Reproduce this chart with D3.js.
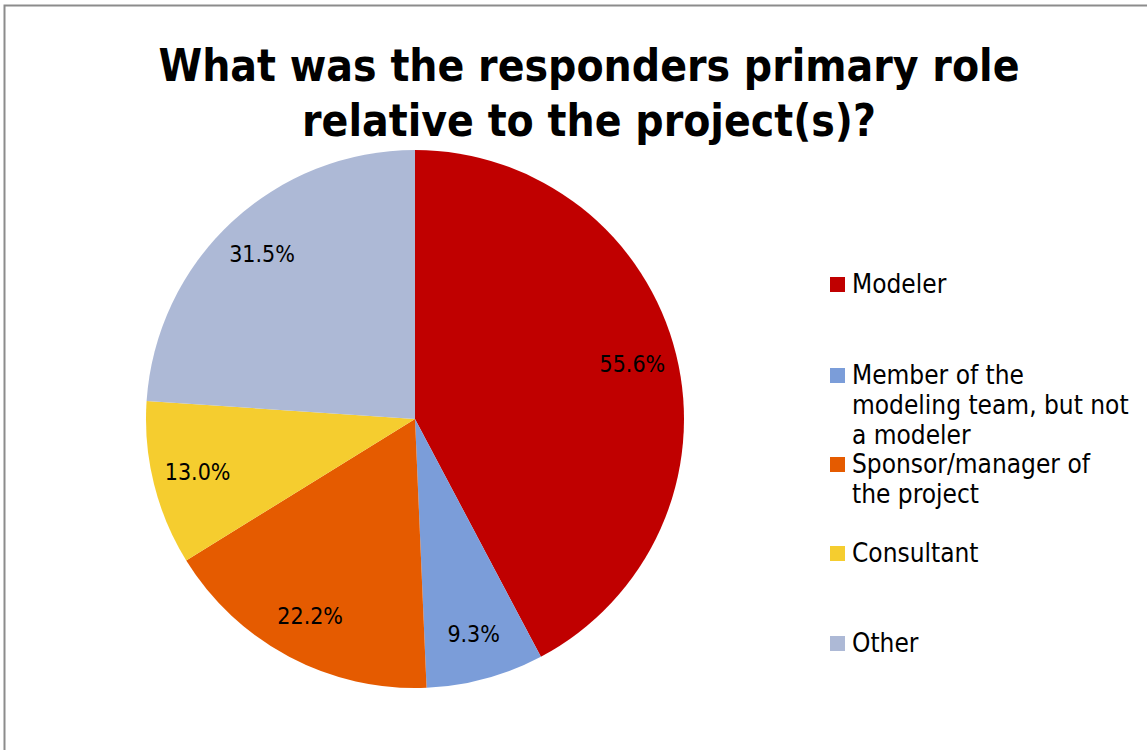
<!DOCTYPE html>
<html>
<head>
<meta charset="utf-8">
<script src="https://cdn.jsdelivr.net/npm/d3@7"></script>
<style>
  html, body { margin: 0; padding: 0; background: #fff; }
  svg { display: block; }
</style>
</head>
<body>
<svg id="chart" width="1147" height="750"></svg>
<script>
// Survey answers: primary role relative to the project(s)
const categories = [
  "Modeler",
  "Member of the modeling team, but not a modeler",
  "Sponsor/manager of the project",
  "Consultant",
  "Other"
];
const values = [55.6, 9.3, 22.2, 13.0, 31.5];
const valueLabels = ["55.6%", "9.3%", "22.2%", "13.0%", "31.5%"];
const legendLines = [
  ["Modeler"],
  ["Member of the", "modeling team, but not", "a modeler"],
  ["Sponsor/manager of", "the project"],
  ["Consultant"],
  ["Other"]
];
const colors = ["#C00000", "#7B9DD9", "#E55B00", "#F5CD2F", "#ADB9D6"];
const titleLines = ["What was the responders primary role", "relative to the project(s)?"];

const svg = d3.select("#chart");
const font = "Tahoma, 'DejaVu Sans Condensed', 'DejaVu Sans', sans-serif";

// outer frame
svg.append("rect")
  .attr("x", 4.5).attr("y", 5.5)
  .attr("width", 1160).attr("height", 760)
  .attr("fill", "#fff")
  .attr("stroke", "#8c8c8c")
  .attr("stroke-width", 2);

// title
svg.append("g")
  .selectAll("text")
  .data(titleLines)
  .join("text")
  .attr("x", 589)
  .attr("y", (d, i) => 81 + i * 55)
  .attr("text-anchor", "middle")
  .attr("font-family", font)
  .attr("font-weight", "bold")
  .attr("font-size", 44)
  .attr("fill", "#000")
  .text(d => d);

// pie
const cx = 415, cy = 419, r = 269;
const color = d3.scaleOrdinal().domain(categories).range(colors);
const pie = d3.pie().sort(null).value(d => d.value);
const data = categories.map((c, i) => ({ cat: c, value: values[i], label: valueLabels[i] }));
const arcs = pie(data);
const arc = d3.arc().innerRadius(0).outerRadius(r);
const labelArc = d3.arc().innerRadius(224).outerRadius(224);

const g = svg.append("g").attr("transform", `translate(${cx},${cy})`);
g.selectAll("path")
  .data(arcs)
  .join("path")
  .attr("d", arc)
  .attr("fill", d => color(d.data.cat));

g.selectAll("text")
  .data(arcs)
  .join("text")
  .attr("transform", d => `translate(${labelArc.centroid(d)})`)
  .attr("text-anchor", "middle")
  .attr("dy", "0.3em")
  .attr("font-family", font)
  .attr("font-size", 23)
  .attr("fill", "#000")
  .text(d => d.data.label);

// legend
const legendY = [284, 375, 464, 553, 643];
const lg = svg.append("g");
const items = lg.selectAll("g")
  .data(categories)
  .join("g")
  .attr("transform", (d, i) => `translate(830,${legendY[i]})`);
items.append("rect")
  .attr("x", 0).attr("y", -7)
  .attr("width", 15).attr("height", 15)
  .attr("fill", d => color(d));
items.append("text")
  .attr("font-family", font)
  .attr("font-size", 26)
  .attr("fill", "#000")
  .selectAll("tspan")
  .data((d, i) => legendLines[i])
  .join("tspan")
  .attr("x", 22)
  .attr("y", (d, j) => 9 + j * 30)
  .text(d => d);
</script>
</body>
</html>
